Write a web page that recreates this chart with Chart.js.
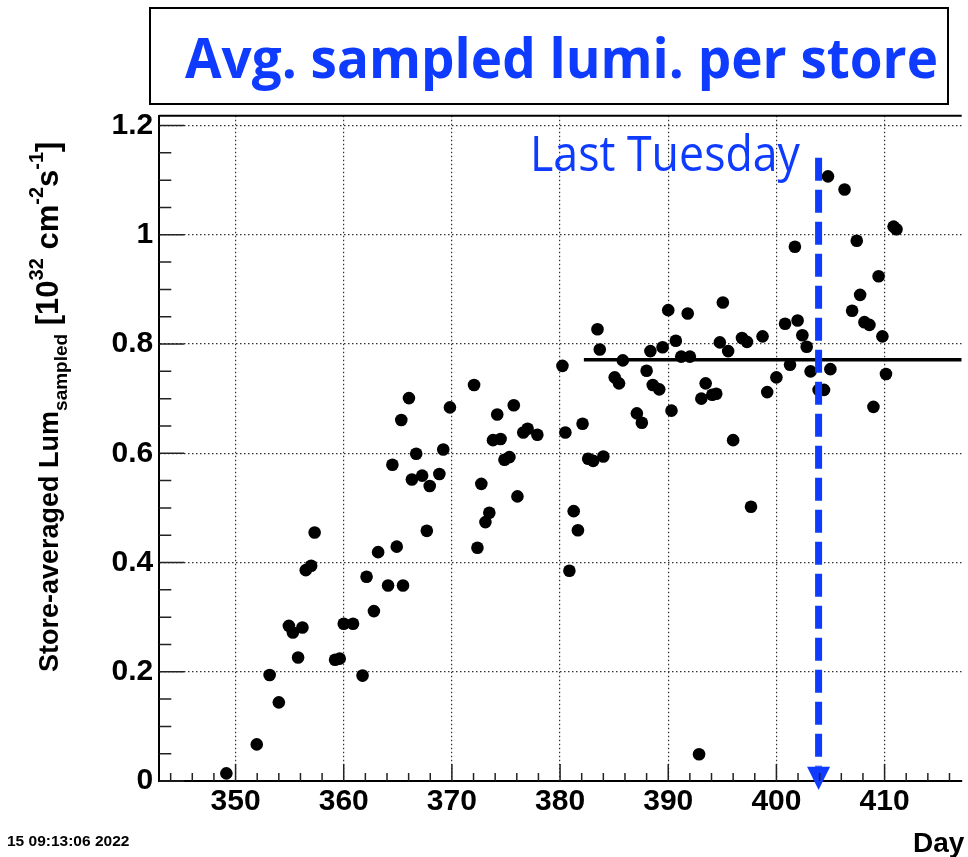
<!DOCTYPE html>
<html>
<head>
<meta charset="utf-8">
<script src="https://cdn.jsdelivr.net/npm/chart.js@4/dist/chart.umd.min.js"></script>
<style>
  html, body { margin: 0; padding: 0; background: #fff; overflow: hidden; }
  #wrap { position: relative; width: 968px; height: 857px; }
</style>
</head>
<body>
<div id="wrap"><canvas id="grafico"></canvas></div>
<script>
// store days and averaged sampled lumi (10^32 cm^-2 s^-1)
const dias = [
  349.15, 351.96, 353.15, 354.0, 354.93, 355.3, 355.78, 356.18, 356.49, 356.99,
  357.31, 359.2, 359.63, 360.0, 360.86, 361.74, 362.11, 362.79, 363.18, 364.1,
  364.5, 364.9, 365.32, 365.48, 366.03, 366.3, 366.7, 367.25, 367.68, 367.95,
  368.84, 369.2, 369.82, 372.05, 372.36, 372.72, 373.1, 373.46, 373.8, 374.19,
  374.5, 374.86, 375.32, 375.72, 376.06, 376.6, 377.0, 377.9, 380.22, 380.49,
  380.86, 381.26, 381.65, 382.08, 382.6, 383.06, 383.46, 383.67, 384.0, 385.05,
  385.45, 385.8, 387.1, 387.56, 388.0, 388.35, 388.57, 389.17, 389.48, 390.0,
  390.3, 390.7, 391.2, 391.8, 392.0, 392.85, 393.06, 393.46, 394.07, 394.44,
  394.77, 395.05, 395.54, 396.0, 396.82, 397.28, 397.65, 398.72, 399.15, 400.0,
  400.8, 401.26, 401.71, 401.96, 402.4, 402.8, 403.16, 403.9, 404.4, 404.77,
  404.99, 406.3, 407.0, 407.43, 407.74, 408.14, 408.6, 408.97, 409.45, 409.8,
  410.13, 410.83, 411.1
];
const lumi = [
  0.014, 0.067, 0.194, 0.144, 0.284, 0.272, 0.226, 0.281, 0.386, 0.394,
  0.455, 0.222, 0.224, 0.288, 0.288, 0.193, 0.374, 0.311, 0.419, 0.358,
  0.579, 0.429, 0.661, 0.358, 0.701, 0.552, 0.599, 0.559, 0.458, 0.540,
  0.562, 0.607, 0.684, 0.725, 0.427, 0.544, 0.474, 0.491, 0.624, 0.671,
  0.626, 0.588, 0.593, 0.688, 0.521, 0.638, 0.645, 0.634, 0.760, 0.638,
  0.385, 0.494, 0.459, 0.654, 0.590, 0.586, 0.827, 0.790, 0.594, 0.739,
  0.728, 0.770, 0.673, 0.656, 0.751, 0.787, 0.725, 0.717, 0.794, 0.862,
  0.678, 0.806, 0.777, 0.856, 0.777, 0.049, 0.700, 0.728, 0.707, 0.709,
  0.803, 0.876, 0.787, 0.624, 0.811, 0.804, 0.502, 0.814, 0.712, 0.739,
  0.837, 0.762, 0.978, 0.843, 0.816, 0.795, 0.750, 0.716, 0.716, 1.107,
  0.754, 1.083, 0.861, 0.989, 0.890, 0.840, 0.835, 0.685, 0.924, 0.814,
  0.745, 1.015, 1.010
];

// average line (day range, level)
const mediaDias = [382.2, 417.13];
const mediaNivel = 0.771;

// "Last Tuesday" arrow: day, top, base of head, tip
const setaDia = 403.9;
const setaValores = [1.141, 0.026, -0.0165];

// axes
const eixoX = { min: 342.95, max: 417.13, passo: 10, passoMenor: 2 };
const eixoY = { min: 0, max: 1.218, passo: 0.2, passoMenor: 0.05 };

const titulo = 'Avg. sampled lumi. per store';
const rotuloSeta = 'Last Tuesday';
const carimbo = '15 09:13:06 2022';
const rotuloX = 'Day';

const AZUL = '#0f3bff';
const fonteEixo = 'Liberation Sans, Arial, sans-serif';

// desenha texto ajustado a uma largura fixa
function textoAjustado(ctx, txt, x, y, fonte, largura, cor) {
  ctx.save();
  ctx.font = fonte;
  const w = ctx.measureText(txt).width;
  ctx.translate(x, y);
  ctx.scale(largura / w, 1);
  ctx.fillStyle = cor;
  ctx.textBaseline = 'alphabetic';
  ctx.textAlign = 'left';
  ctx.fillText(txt, 0, 0);
  ctx.restore();
}

const pluginMoldura = {
  id: 'moldura',
  afterDatasetsDraw(chart) {
    const ctx = chart.ctx;
    const sx = chart.scales.x, sy = chart.scales.y;
    // cabeça da seta
    const cx = sx.getPixelForValue(setaDia);
    const base = sy.getPixelForValue(setaValores[1]);
    const ponta = sy.getPixelForValue(setaValores[2]);
    ctx.save();
    ctx.fillStyle = AZUL;
    ctx.beginPath();
    ctx.moveTo(cx - 11.5, base);
    ctx.lineTo(cx + 11.5, base);
    ctx.lineTo(cx, ponta);
    ctx.closePath();
    ctx.fill();
    ctx.restore();
  },
  afterDraw(chart) {
    const ctx = chart.ctx;
    const area = chart.chartArea;
    const sx = chart.scales.x, sy = chart.scales.y;

    // marcas (ticks) para dentro, estilo ROOT
    ctx.save();
    ctx.strokeStyle = '#222';
    ctx.lineWidth = 1.5;
    ctx.beginPath();
    for (let v = 344; v <= eixoX.max; v += eixoX.passoMenor) {
      const px = sx.getPixelForValue(v);
      const len = (v % eixoX.passo === 0) ? 17 : 8;
      ctx.moveTo(px, area.bottom);
      ctx.lineTo(px, area.bottom - len);
    }
    for (let i = 0; i * eixoY.passoMenor <= eixoY.max + 1e-9; i++) {
      const v = i * eixoY.passoMenor;
      const py = sy.getPixelForValue(v);
      const len = (i % 4 === 0) ? 25 : 12;
      ctx.moveTo(area.left, py);
      ctx.lineTo(area.left + len, py);
    }
    ctx.stroke();
    // moldura de cima
    ctx.lineWidth = 2;
    ctx.strokeStyle = '#000';
    ctx.beginPath();
    ctx.moveTo(area.left, area.top);
    ctx.lineTo(area.right, area.top);
    ctx.stroke();
    ctx.restore();

    // caixa do título
    ctx.save();
    ctx.fillStyle = '#fff';
    ctx.fillRect(150, 8, 798, 96);
    ctx.lineWidth = 2;
    ctx.strokeStyle = '#000';
    ctx.strokeRect(150, 8, 798, 96);
    ctx.restore();
    textoAjustado(ctx, titulo, 185, 78, 'bold 55px "Open Sans"', 753, AZUL);

    // rótulo da seta
    textoAjustado(ctx, rotuloSeta, 530, 171, '50px "Open Sans"', 270, AZUL);

    // título do eixo Y com índices
    ctx.save();
    ctx.translate(58, 672);
    ctx.rotate(-Math.PI / 2);
    ctx.fillStyle = '#000';
    ctx.textBaseline = 'alphabetic';
    const partes = [
      ['Store-averaged Lum', 27, 0],
      ['sampled', 19, 9],
      [' [10', 31, 0],
      ['32', 20, -15],
      [' cm', 31, 0],
      ['-2', 20, -15],
      ['s', 31, 0],
      ['-1', 20, -15],
      [']', 31, 0]
    ];
    let pos = 0;
    for (const [t, tam, dy] of partes) {
      ctx.font = 'bold ' + tam + 'px ' + fonteEixo;
      ctx.fillText(t, pos, dy);
      pos += ctx.measureText(t).width;
    }
    ctx.restore();

    // data/hora e título do eixo X
    ctx.save();
    ctx.fillStyle = '#000';
    ctx.font = 'bold 15.5px ' + fonteEixo;
    ctx.fillText(carimbo, 7, 846);
    ctx.font = 'bold 28px ' + fonteEixo;
    ctx.fillText(rotuloX, 913, 852);
    ctx.restore();
  }
};

const pontos = dias.map((d, i) => ({ x: d, y: lumi[i] }));

new Chart(document.getElementById('grafico').getContext('2d'), {
  type: 'scatter',
  data: {
    datasets: [{
      // seta tracejada
      data: [{ x: setaDia, y: setaValores[0] }, { x: setaDia, y: setaValores[1] }],
      showLine: true,
      borderColor: AZUL,
      borderWidth: 7,
      borderDash: [23, 9],
      pointRadius: 0
    }, {
      data: pontos,
      backgroundColor: '#000',
      borderWidth: 0,
      pointRadius: 6.3,
      pointHoverRadius: 6.3
    }, {
      // média
      data: mediaDias.map(d => ({ x: d, y: mediaNivel })),
      showLine: true,
      borderColor: '#000',
      borderWidth: 3.5,
      pointRadius: 0
    }]
  },
  options: {
    responsive: true,
    maintainAspectRatio: false,
    animation: false,
    layout: { padding: { top: 115.7, left: 0, right: 0, bottom: 0 } },
    plugins: { legend: { display: false }, tooltip: { enabled: false } },
    scales: {
      x: {
        type: 'linear',
        min: eixoX.min,
        max: eixoX.max,
        afterFit: s => { s.height = 76; },
        ticks: {
          stepSize: eixoX.passo,
          includeBounds: false,
          padding: 3,
          color: '#000',
          font: { family: fonteEixo, size: 30, weight: 'bold' },
          callback: v => (v % 10 === 0 ? String(v) : '')
        },
        grid: { color: '#333', lineWidth: 1.2, drawTicks: false },
        border: { display: true, color: '#000', width: 2, dash: [1.5, 2.5] }
      },
      y: {
        min: eixoY.min,
        max: eixoY.max,
        afterFit: s => { s.width = 159.3; },
        ticks: {
          stepSize: eixoY.passo,
          includeBounds: false,
          padding: 6,
          color: '#000',
          font: { family: fonteEixo, size: 30, weight: 'bold' },
          callback: v => String(+v.toFixed(1))
        },
        grid: { color: '#333', lineWidth: 1.2, drawTicks: false },
        border: { display: true, color: '#000', width: 2, dash: [1.5, 2.5] }
      }
    }
  },
  plugins: [pluginMoldura]
});
</script>
</body>
</html>
